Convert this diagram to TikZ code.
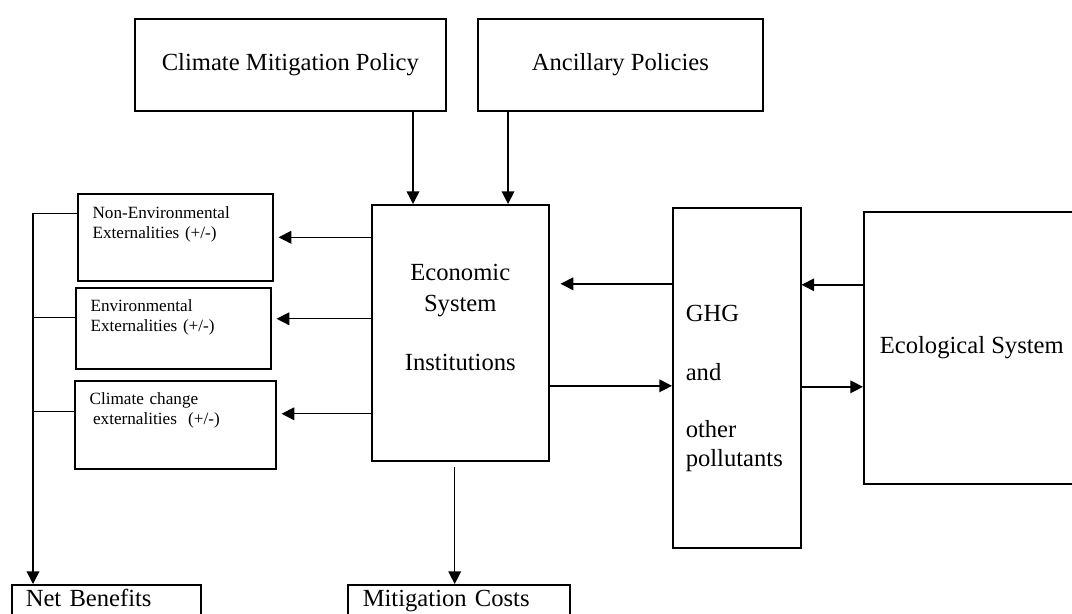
\documentclass[tikz,border=0pt]{standalone}
\usepackage{fontspec}
\setmainfont{Liberation Serif}
\usetikzlibrary{arrows.meta}
\tikzset{
  box/.style={draw, line width=1.1pt, inner sep=0pt, anchor=north west},
  big/.style={font=\fontsize{17.5}{21}\selectfont},
  small/.style={font=\fontsize{12.2}{14.2}\selectfont, align=left, inner xsep=0.37cm},
  foot/.style={big, align=left, text height=12.5pt, text depth=3pt, minimum height=0.75cm},
  arr/.style={-{Triangle[length=9pt,width=9pt]}, line width=1pt},
  line/.style={line width=1pt},
}
\begin{document}
\begin{tikzpicture}[x=0.025cm, y=-0.025cm]
\useasboundingbox (0,0) rectangle (1072,613);
\node (CMP) at (134,18) [box, big, minimum width=7.775cm, minimum height=2.3cm] {Climate Mitigation Policy};
\node (ANC) at (477,18) [box, big, minimum width=7.125cm, minimum height=2.3cm] {Ancillary Policies};
\node (ECON) at (371,204) [box, align=center, minimum width=4.425cm, minimum height=6.4cm, font=\fontsize{17.5}{22}\selectfont] {Economic\\System\\[20pt]Institutions\\\mbox{}};
\node (GHG) at (672,207) [box, big, align=left, inner xsep=0.325cm, text width=2.55cm, minimum height=8.5cm] {\mbox{}\\[6pt]GHG\\[21pt]and\\[19.5pt]other\\pollutants};
\node (ECO) at (863,211) [box, big, minimum width=5.4cm, minimum height=6.8cm] {Ecological System};
\node (NONENV) at (77,193) [box, small, text width=4.135cm, minimum height=2.175cm] {Non-Environmental\\Externalities (+/-)\\[7pt]\mbox{}};
\node (ENV) at (75,287) [box, small, text width=4.135cm, minimum height=2.025cm] {Environmental\\Externalities (+/-)\\[4.5pt]\mbox{}};
\node (CCX) at (74,380) [box, small, text width=4.285cm, minimum height=2.2cm] {Climate change\\\hspace*{2.5pt}externalities\hspace{8pt}(+/-)\\[9.5pt]\mbox{}};
\node (NET) at (11,584) [box, foot, inner xsep=0.35cm, text width=4.025cm] {Net Benefits};
\node (MIT) at (347,584) [box, foot, inner xsep=0.375cm, text width=4.8cm] {Mitigation Costs};

% policies into the economic system
\coordinate (p1) at ([xshift=1.05cm]ECON.north west);
\coordinate (p2) at ([xshift=3.425cm]ECON.north west);
\draw [arr] (p1 |- CMP.south) -- (p1);
\draw [arr] (p2 |- ANC.south) -- (p2);

% externalities
\coordinate (x2) at ([yshift=0.2375cm]ENV.east);
\coordinate (x3) at ([yshift=0.275cm]CCX.east);
\draw [arr, shorten >=0.125cm] (ECON.west |- NONENV.east) -- (NONENV.east);
\draw [arr, shorten >=0.125cm] (ECON.west |- x2) -- (x2);
\draw [arr, shorten >=0.125cm] (ECON.west |- x3) -- (x3);

% pollutants and ecology
\coordinate (g1) at ([yshift=2.35cm]GHG.west);
\coordinate (g2) at ([yshift=-0.2cm]GHG.west);
\coordinate (e1) at ([yshift=1.575cm]ECO.west);
\coordinate (e2) at ([yshift=-0.975cm]ECO.west);
\draw [arr, shorten >=0.275cm] (g1) -- (g1 -| ECON.east);
\draw [arr] (g2 -| ECON.east) -- (g2);
\draw [arr] (e1) -- (e1 -| GHG.east);
\draw [arr] (e2 -| GHG.east) -- (e2);

% costs
\coordinate (m1) at ([xshift=-0.14cm]ECON.south);
\draw [arr, shorten <=0.125cm] (m1) -- (m1 |- MIT.north);

% benefits
\coordinate (trunk) at ([xshift=0.55cm]NET.north west);
\coordinate (b2) at ([yshift=0.2625cm]ENV.west);
\coordinate (b3) at ([yshift=0.325cm]CCX.west);
\draw [arr] ([yshift=0.59cm]NONENV.west) -| (trunk);
\draw [line] (b2) -- (b2 -| trunk);
\draw [line] (b3) -- (b3 -| trunk);
\end{tikzpicture}
\end{document}
